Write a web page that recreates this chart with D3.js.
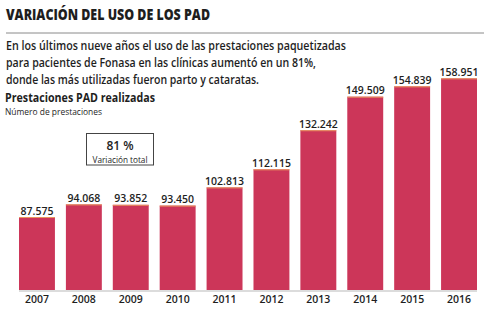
<!DOCTYPE html>
<html>
<head>
<meta charset="utf-8">
<script src="https://cdn.jsdelivr.net/npm/d3@7"></script>
<style>
  body { margin: 0; background: #fff; }
  svg { display: block; }
  text { fill: #1e1e1e; font-family: "Open Sans", Lato, sans-serif; }
</style>
</head>
<body>
<svg id="svg"></svg>
<script>
var w = 504, h = 329

// prestaciones PAD por año
var years = ["2007", "2008", "2009", "2010", "2011", "2012", "2013", "2014", "2015", "2016"]
var values = [87575, 94068, 93852, 93450, 102813, 112115, 132242, 149509, 154839, 158951]
var valueLabels = ["87.575", "94.068", "93.852", "93.450", "102.813", "112.115", "132.242", "149.509", "154.839", "158.951"]

var title = "VARIACIÓN DEL USO DE LOS PAD"
var intro = [
    "En los últimos nueve años el uso de las prestaciones paquetizadas",
    "para pacientes de Fonasa  en las clínicas aumentó en un 81%,",
    "donde las más utilizadas  fueron  parto y cataratas."
]
var introWidths = [340, 310, 253]
var chartTitle = "Prestaciones PAD realizadas"
var chartSub = "Número de prestaciones"
var boxValue = "81 %"
var boxLabel = "Variación total"

function init()
{
    var svg = d3.select("#svg")
        .attr("width", w)
        .attr("height", h)

    svg.append("rect")
        .attr("width", w)
        .attr("height", h)
        .attr("fill", "#fff")

    // cabecera
    svg.append("text")
        .attr("x", 6)
        .attr("y", 20)
        .attr("font-size", 16.5)
        .attr("font-weight", 800)
        .attr("textLength", 204)
        .attr("lengthAdjust", "spacingAndGlyphs")
        .text(title)

    svg.append("line")
        .attr("x1", 6).attr("x2", 484)
        .attr("y1", 33).attr("y2", 33)
        .attr("stroke", "#8a8a8a")
        .attr("stroke-width", 1)

    svg.selectAll("text.intro")
        .data(intro)
        .enter().append("text")
        .attr("class", "intro")
        .attr("x", 6)
        .attr("y", function(d, i){ return 49.5 + i * 17 })
        .attr("font-size", 12.5)
        .attr("font-weight", 600)
        .attr("textLength", function(d, i){ return introWidths[i] })
        .attr("lengthAdjust", "spacingAndGlyphs")
        .text(function(d){ return d })

    svg.append("text")
        .attr("x", 5)
        .attr("y", 102)
        .attr("font-size", 12.5)
        .attr("font-weight", 700)
        .attr("textLength", 150)
        .attr("lengthAdjust", "spacingAndGlyphs")
        .text(chartTitle)

    svg.append("text")
        .attr("x", 5)
        .attr("y", 114.5)
        .attr("font-size", 9)
        .attr("textLength", 97)
        .attr("lengthAdjust", "spacingAndGlyphs")
        .text(chartSub)

    // recuadro de variación total
    svg.append("rect")
        .attr("x", 86.5).attr("y", 133.5)
        .attr("width", 67).attr("height", 31.5)
        .attr("fill", "none")
        .attr("stroke", "#444")
        .attr("stroke-width", 1)

    svg.append("text")
        .attr("x", 120).attr("y", 149.5)
        .attr("text-anchor", "middle")
        .attr("font-size", 12)
        .attr("font-weight", 600)
        .text(boxValue)

    svg.append("text")
        .attr("x", 120).attr("y", 163)
        .attr("text-anchor", "middle")
        .attr("font-size", 9)
        .attr("textLength", 55)
        .attr("lengthAdjust", "spacingAndGlyphs")
        .text(boxLabel)

    // barras
    var x = d3.scaleBand()
        .domain(years)
        .range([19, 477])
        .paddingInner(0.234)
        .paddingOuter(0)

    var y = d3.scaleLinear()
        .domain([50000, 160000])
        .range([290, 76.3])

    var g = svg.append("g").attr("id", "barchart")

    g.append("line")
        .attr("x1", 19).attr("x2", 477)
        .attr("y1", 291).attr("y2", 291)
        .attr("stroke", "#b9b9b9")
        .attr("stroke-width", 1)

    g.selectAll("rect.bar")
        .data(values)
        .enter().append("rect")
        .attr("class", "bar")
        .attr("x", function(d, i){ return x(years[i]) })
        .attr("y", function(d){ return y(d) })
        .attr("width", x.bandwidth())
        .attr("height", function(d){ return y.range()[0] - y(d) })
        .attr("fill", "#cc3659")

    // filo anaranjado sobre cada barra
    g.selectAll("line.edge")
        .data(values)
        .enter().append("line")
        .attr("class", "edge")
        .attr("x1", function(d, i){ return x(years[i]) })
        .attr("x2", function(d, i){ return x(years[i]) + x.bandwidth() })
        .attr("y1", function(d){ return y(d) + 0.5 })
        .attr("y2", function(d){ return y(d) + 0.5 })
        .attr("stroke", "#e9955e")
        .attr("stroke-width", 1)

    g.selectAll("text.value")
        .data(values)
        .enter().append("text")
        .attr("class", "value")
        .attr("x", function(d, i){ return x(years[i]) + x.bandwidth() / 2 })
        .attr("y", function(d){ return y(d) - 2.5 })
        .attr("text-anchor", "middle")
        .attr("font-size", 10.5)
        .attr("font-weight", 600)
        .text(function(d, i){ return valueLabels[i] })

    var xAxis = d3.axisBottom(x).tickSize(0).tickPadding(0)
    var ax = g.append("g")
        .attr("transform", "translate(0,295)")
        .call(xAxis)
    ax.select(".domain").remove()
    ax.selectAll("text")
        .attr("dy", "0.71em")
        .attr("y", 1)
        .style("font-family", "'Open Sans', sans-serif")
        .style("font-size", "10.5px")
        .style("font-weight", 600)
        .attr("fill", "#1e1e1e")
}

init()
</script>
</body>
</html>
